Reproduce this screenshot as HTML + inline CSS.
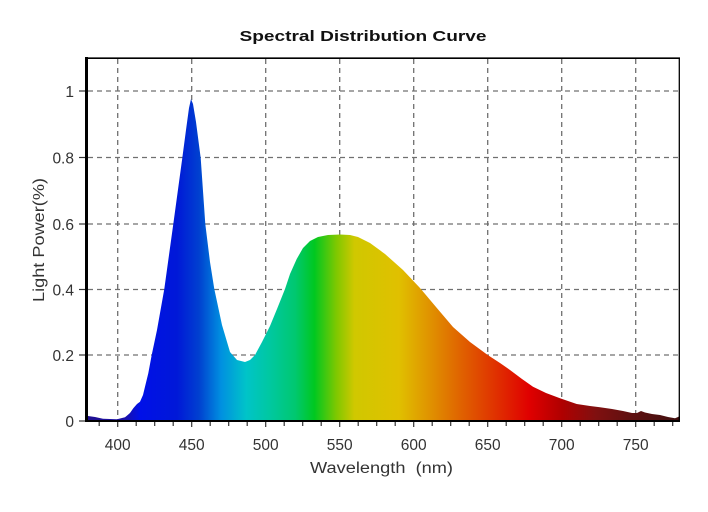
<!DOCTYPE html>
<html>
<head>
<meta charset="utf-8">
<style>
  html,body{margin:0;padding:0;background:#fff;}
  svg{display:block;}
  text{font-family:"Liberation Sans", Arial, sans-serif;}
</style>
</head>
<body>
<svg width="708" height="512" viewBox="0 0 708 512" xmlns="http://www.w3.org/2000/svg">
  <defs>
    <linearGradient id="spec" gradientUnits="userSpaceOnUse" x1="88" y1="0" x2="680" y2="0">
      <stop offset="0" stop-color="#201090"/>
      <stop offset="0.0625" stop-color="#1a10a8"/>
      <stop offset="0.0875" stop-color="#0010e8"/>
      <stop offset="0.15" stop-color="#0018d8"/>
      <stop offset="0.1875" stop-color="#0040d0"/>
      <stop offset="0.225" stop-color="#0090e0"/>
      <stop offset="0.2675" stop-color="#00c4c8"/>
      <stop offset="0.3075" stop-color="#00c8a0"/>
      <stop offset="0.35" stop-color="#00c870"/>
      <stop offset="0.3825" stop-color="#00c820"/>
      <stop offset="0.42" stop-color="#80c800"/>
      <stop offset="0.45" stop-color="#d0c800"/>
      <stop offset="0.525" stop-color="#e0c000"/>
      <stop offset="0.58" stop-color="#e09000"/>
      <stop offset="0.6325" stop-color="#e06000"/>
      <stop offset="0.69" stop-color="#e03000"/>
      <stop offset="0.745" stop-color="#e00000"/>
      <stop offset="0.8" stop-color="#b00000"/>
      <stop offset="0.8575" stop-color="#801010"/>
      <stop offset="0.915" stop-color="#601010"/>
      <stop offset="1" stop-color="#401010"/>
    </linearGradient>
  </defs>

  <rect x="0" y="0" width="708" height="512" fill="#fff"/>

  <!-- Title -->
  <text x="363" y="41" text-anchor="middle" font-size="15" font-weight="bold" fill="#111" textLength="247" lengthAdjust="spacingAndGlyphs">Spectral Distribution Curve</text>

  <!-- Grid -->
  <g stroke="#707070" stroke-width="1.3" stroke-dasharray="5,4" fill="none">
    <line x1="117.7" y1="59" x2="117.7" y2="420"/>
    <line x1="191.7" y1="59" x2="191.7" y2="420"/>
    <line x1="265.7" y1="59" x2="265.7" y2="420"/>
    <line x1="339.7" y1="59" x2="339.7" y2="420"/>
    <line x1="413.7" y1="59" x2="413.7" y2="420"/>
    <line x1="487.7" y1="59" x2="487.7" y2="420"/>
    <line x1="561.7" y1="59" x2="561.7" y2="420"/>
    <line x1="635.7" y1="59" x2="635.7" y2="420"/>
    <line x1="88" y1="91" x2="679" y2="91"/>
    <line x1="88" y1="157.5" x2="679" y2="157.5"/>
    <line x1="88" y1="224" x2="679" y2="224"/>
    <line x1="88" y1="289.5" x2="679" y2="289.5"/>
    <line x1="88" y1="355" x2="679" y2="355"/>
  </g>

  <!-- Spectrum fill -->
  <path fill="url(#spec)" d="
    M88,421 L88,416 L95,417 L103,418.7 L117,419.3 L125,417.3 L130,413 L133.3,408.3 L137,404 L140,401.7
    L143,395 L145,386.7 L148.3,373.3 L151.7,355 L157,330 L164.3,289 L173.3,224 L182.3,158 L186,130
    L189,108 L191,99 L193,104 L196,122 L200.7,158 L205.3,224 L210,262 L214.3,289 L222,325 L230,352
    L237,360 L245,362 L250,360 L255,355 L262,342 L270,326 L277,309 L285,289 L290,274 L296.7,259
    L303,248 L310,241 L318,237 L328,235 L340,234.5 L350,235 L358,237 L370,243 L385,254 L403,270
    L420,288 L436,307 L453,327 L470,342 L487.7,355 L500,363 L510,370 L522,379 L533,386.7 L546,393
    L560,398.3 L576.7,404 L590,406 L600,407.3 L612,409 L623,411 L632,413 L637,413 L641,411
    L645,412.5 L652,414 L660,415 L668,417 L675,418.3 L678,417 L680,416 L680,421 Z"/>

  <!-- Frame -->
  <line x1="86.5" y1="57" x2="86.5" y2="422" stroke="#000" stroke-width="3"/>
  <line x1="85" y1="421" x2="680" y2="421" stroke="#000" stroke-width="2"/>
  <line x1="85" y1="58.2" x2="680" y2="58.2" stroke="#000" stroke-width="1.6"/>
  <line x1="679.3" y1="57.5" x2="679.3" y2="422" stroke="#000" stroke-width="1.3"/>

  <!-- Y ticks -->
  <g stroke="#333" stroke-width="1.2">
    <line x1="79" y1="91" x2="85" y2="91"/>
    <line x1="79" y1="157.5" x2="85" y2="157.5"/>
    <line x1="79" y1="224" x2="85" y2="224"/>
    <line x1="79" y1="289.5" x2="85" y2="289.5"/>
    <line x1="79" y1="355" x2="85" y2="355"/>
    <line x1="79" y1="421" x2="85" y2="421"/>
  </g>

  <!-- X ticks (every 12.5 nm) -->
  <g stroke="#333" stroke-width="1.2">
    <line x1="99.2" y1="422" x2="99.2" y2="426"/>
    <line x1="117.7" y1="422" x2="117.7" y2="427"/>
    <line x1="136.2" y1="422" x2="136.2" y2="426"/>
    <line x1="154.7" y1="422" x2="154.7" y2="426"/>
    <line x1="173.2" y1="422" x2="173.2" y2="426"/>
    <line x1="191.7" y1="422" x2="191.7" y2="427"/>
    <line x1="210.2" y1="422" x2="210.2" y2="426"/>
    <line x1="228.7" y1="422" x2="228.7" y2="426"/>
    <line x1="247.2" y1="422" x2="247.2" y2="426"/>
    <line x1="265.7" y1="422" x2="265.7" y2="427"/>
    <line x1="284.2" y1="422" x2="284.2" y2="426"/>
    <line x1="302.7" y1="422" x2="302.7" y2="426"/>
    <line x1="321.2" y1="422" x2="321.2" y2="426"/>
    <line x1="339.7" y1="422" x2="339.7" y2="427"/>
    <line x1="358.2" y1="422" x2="358.2" y2="426"/>
    <line x1="376.7" y1="422" x2="376.7" y2="426"/>
    <line x1="395.2" y1="422" x2="395.2" y2="426"/>
    <line x1="413.7" y1="422" x2="413.7" y2="427"/>
    <line x1="432.2" y1="422" x2="432.2" y2="426"/>
    <line x1="450.7" y1="422" x2="450.7" y2="426"/>
    <line x1="469.2" y1="422" x2="469.2" y2="426"/>
    <line x1="487.7" y1="422" x2="487.7" y2="427"/>
    <line x1="506.2" y1="422" x2="506.2" y2="426"/>
    <line x1="524.7" y1="422" x2="524.7" y2="426"/>
    <line x1="543.2" y1="422" x2="543.2" y2="426"/>
    <line x1="561.7" y1="422" x2="561.7" y2="427"/>
    <line x1="580.2" y1="422" x2="580.2" y2="426"/>
    <line x1="598.7" y1="422" x2="598.7" y2="426"/>
    <line x1="617.2" y1="422" x2="617.2" y2="426"/>
    <line x1="635.7" y1="422" x2="635.7" y2="427"/>
    <line x1="654.2" y1="422" x2="654.2" y2="426"/>
    <line x1="672.7" y1="422" x2="672.7" y2="426"/>
  </g>

  <!-- Y tick labels -->
  <g font-size="15.5" fill="#333" text-anchor="end">
    <text x="74" y="97">1</text>
    <text x="74" y="163.5">0.8</text>
    <text x="74" y="230">0.6</text>
    <text x="74" y="295.5">0.4</text>
    <text x="74" y="361">0.2</text>
    <text x="74" y="427">0</text>
  </g>

  <!-- X tick labels -->
  <g font-size="15.5" fill="#333" text-anchor="middle">
    <text x="117.7" y="450">400</text>
    <text x="191.7" y="450">450</text>
    <text x="265.7" y="450">500</text>
    <text x="339.7" y="450">550</text>
    <text x="413.7" y="450">600</text>
    <text x="487.7" y="450">650</text>
    <text x="561.7" y="450">700</text>
    <text x="635.7" y="450">750</text>
  </g>

  <!-- Axis labels -->
  <text x="381.5" y="473" text-anchor="middle" font-size="15.5" fill="#333" textLength="143" lengthAdjust="spacingAndGlyphs" xml:space="preserve">Wavelength  (nm)</text>
  <text transform="translate(44,240) rotate(-90)" text-anchor="middle" font-size="15.5" fill="#333" textLength="124" lengthAdjust="spacingAndGlyphs">Light Power(%)</text>
</svg>
</body>
</html>
